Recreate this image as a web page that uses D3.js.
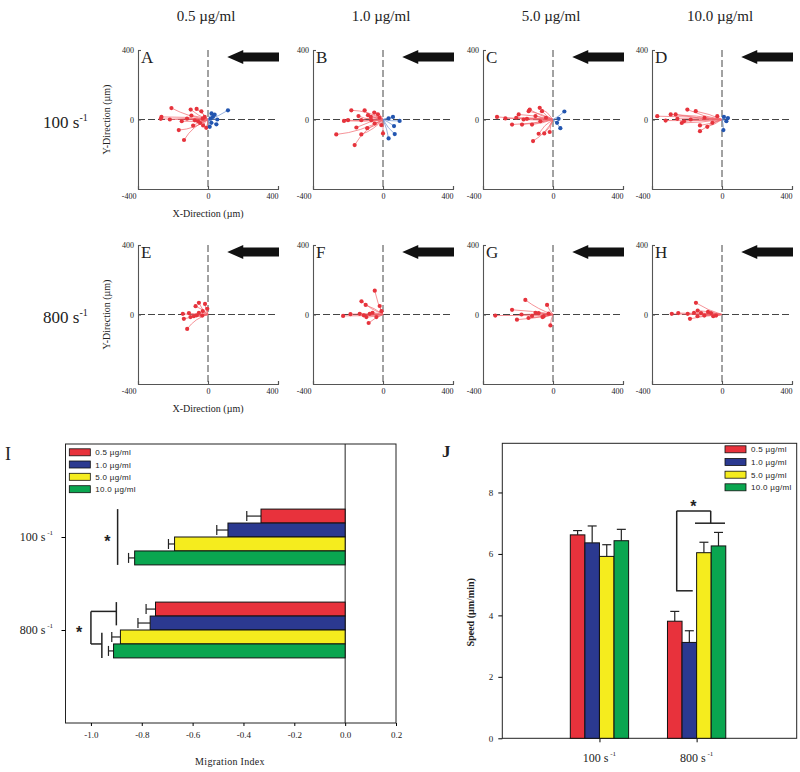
<!DOCTYPE html>
<html lang="en">
<head>
<meta charset="UTF-8">
<title>chart</title>
<style>
  body { margin: 0; background: #fff; }
  svg text { font-family: "Liberation Serif", "Times New Roman", serif; fill: #222; }
  svg text.sans { font-family: "Liberation Sans", Arial, sans-serif; }
</style>
</head>
<body>
<script src="https://d3js.org/d3.v7.min.js"></script>
<script>
// ---- data ----
const concentrations = ['0.5 µg/ml', '1.0 µg/ml', '5.0 µg/ml', '10.0 µg/ml'];
const shearRates = ['100', '800'];
const seriesColors = ['#e8323c', '#2b3990', '#f5ec1e', '#0aa650'];
const trackDomain = [-400, 400];

// track end points: [x µm, y µm, bend µm]
const redA = [[-209,66,20],[-266,15,-10],[-270,4,5],[-218,0,-15],[-167,-61,25],[-137,-118,-30],[-99,57,10],[-65,61,-8],[-38,47,6],[-95,23,-5],[-57,-10,8],[-28,-34,-6],[-10,-48,4],[-19,15,3],[-120,5,10],[-45,-20,5],[-75,-5,-8],[-30,5,0],[-150,-10,12],[-85,-35,-10]];
const blueA = [[114,53,-10],[38,28,4],[48,-28,-4],[19,-19,3],[10,-42,0],[28,15,0],[53,0,3],[20,35,0],[15,5,0]];
const redB = [[-181,53,-25],[-223,-8,10],[-267,-86,30],[-162,-147,-35],[-124,-86,20],[-152,-46,-15],[-105,53,25],[-86,25,-12],[-29,30,8],[0,-80,0],[-48,-23,6],[-200,-4,12],[-124,-4,-20],[-67,-4,10],[-10,-32,-5],[-90,-50,15],[-50,40,-20],[-140,20,18],[-20,10,4],[-70,15,-6]];
const blueB = [[57,15,4],[95,-8,-6],[63,-38,5],[67,-84,-10],[32,-109,8],[32,6,2]];
const redC = [[-320,15,10],[-272,6,-8],[-234,-29,12],[-196,29,-10],[-177,-29,8],[-139,48,-12],[-133,57,10],[-76,67,-15],[-63,48,10],[-114,-124,25],[-82,-82,-15],[-50,-80,12],[-19,-72,-6],[-120,-29,8],[-72,-10,-6],[-168,0,6],[-149,4,-5],[-100,20,8],[-40,10,4],[-210,10,-6]];
const blueC = [[65,46,-5],[32,4,3],[42,-50,5],[23,-19,-3]];
const redD = [[-370,19,-10],[-322,-6,8],[-293,29,-10],[-265,29,12],[-217,-10,-8],[-198,57,15],[-150,48,-10],[-126,-34,10],[-126,-67,-12],[-84,-42,8],[-55,-19,-5],[-179,0,6],[-255,4,-6],[-27,19,4],[-100,10,6],[-230,-20,8]];
const blueD = [[11,15,2],[34,8,-3],[8,-61,6],[25,-10,-3]];
const redE = [[-144,4,6],[-138,-25,-6],[-109,8,5],[-119,-83,-25],[-52,67,12],[-71,48,-10],[-81,-10,5],[-33,-6,-3],[-17,61,8],[-4,33,3],[-52,10,-4],[-100,-15,6],[-30,20,4],[-65,-5,-3]];
const redF = [[-228,-8,6],[-186,2,-5],[-123,76,12],[-99,55,-10],[-47,137,10],[-19,49,5],[-82,-49,-8],[-133,4,5],[-76,4,-4],[-38,-15,3],[-9,19,2],[-95,-15,6],[-60,10,-3],[-110,-5,4]];
const redG = [[-330,-6,5],[-234,27,-8],[-158,84,15],[-206,-30,8],[-82,8,-4],[-34,55,6],[-15,-63,-6],[-54,-11,3],[-120,-8,5],[-100,10,-4],[-60,-15,4],[-180,0,-5],[-140,-20,6],[-25,5,2]];
const redH = [[-287,4,5],[-250,8,-5],[-149,67,12],[-183,-25,-8],[-196,4,4],[-139,23,-6],[-101,-6,4],[-63,8,-3],[-34,-6,2],[-120,8,5],[-160,10,-4],[-80,15,3],[-140,-10,4],[-50,-10,-2]];

// migration index (panel I) and speed (panel J)
const migrationIndex100 = [-0.331, -0.461, -0.671, -0.828];
const migrationErr100 = [0.056, 0.044, 0.024, 0.024];
const migrationIndex800 = [-0.746, -0.767, -0.884, -0.911];
const migrationErr800 = [0.037, 0.048, 0.034, 0.020];
const migrationTicks = [-1.0, -0.8, -0.6, -0.4, -0.2, 0.0, 0.2];
const speed100 = [6.62, 6.36, 5.92, 6.43];
const speedErr100 = [0.14, 0.55, 0.38, 0.37];
const speed800 = [3.81, 3.12, 6.04, 6.26];
const speedErr800 = [0.32, 0.38, 0.34, 0.44];
const speedTicks = [0, 2, 4, 6, 8];

// ---- canvas ----
const width = 800, height = 772;
const svg = d3.select('body').append('svg')
  .attr('width', width).attr('height', height);

const panels = [
  {letter: 'A', red: redA, blue: blueA, col: 0, row: 0},
  {letter: 'B', red: redB, blue: blueB, col: 1, row: 0},
  {letter: 'C', red: redC, blue: blueC, col: 2, row: 0},
  {letter: 'D', red: redD, blue: blueD, col: 3, row: 0},
  {letter: 'E', red: redE, blue: [], col: 0, row: 1},
  {letter: 'F', red: redF, blue: [], col: 1, row: 1},
  {letter: 'G', red: redG, blue: [], col: 2, row: 1},
  {letter: 'H', red: redH, blue: [], col: 3, row: 1}
];
const panelLeft = [138, 313, 483, 652];
const panelTop = [50, 245];
const pw = 140, ph = 139;

// column headers and row labels
concentrations.forEach((c, i) => {
  svg.append('text').attr('x', panelLeft[i] + pw / 2 - 2).attr('y', 21)
    .attr('text-anchor', 'middle').attr('font-size', 15).text(c);
});
shearRates.forEach((s, i) => {
  const t = svg.append('text').attr('x', 43).attr('y', panelTop[i] + ph / 2 + 8)
    .attr('font-size', 17);
  t.append('tspan').text(s + ' s');
  t.append('tspan').attr('font-size', 10).attr('dy', -7).text('-1');
});

function trackPath(x, y, d) {
  const p = d3.path();
  p.moveTo(x(0), y(0));
  const len = Math.hypot(d[0], d[1]) || 1;
  const cx = d[0] / 2 - d[1] / len * d[2];
  const cy = d[1] / 2 + d[0] / len * d[2];
  p.quadraticCurveTo(x(cx), y(cy), x(d[0]), y(d[1]));
  return p.toString();
}

panels.forEach(p => {
  const left = panelLeft[p.col], top = panelTop[p.row];
  const x = d3.scaleLinear().domain(trackDomain).range([left, left + pw]);
  const y = d3.scaleLinear().domain(trackDomain).range([top + ph, top]);
  const g = svg.append('g');

  // dashed cross
  g.append('line').attr('x1', x(-400)).attr('x2', x(400)).attr('y1', y(0)).attr('y2', y(0))
    .attr('stroke', '#444').attr('stroke-width', 1).attr('stroke-dasharray', '7,3');
  g.append('line').attr('x1', x(0)).attr('x2', x(0)).attr('y1', y(400)).attr('y2', y(-400))
    .attr('stroke', '#444').attr('stroke-width', 1).attr('stroke-dasharray', '7,3');

  // axes
  const ax = g.append('g').attr('transform', `translate(0,${y(-400)})`)
    .call(d3.axisBottom(x).tickValues([-400, 0, 400]).tickSize(-3).tickPadding(4).tickFormat(d => String(d)));
  ax.selectAll('.tick text').attr('text-anchor', d => d === 0 ? 'middle' : 'end')
    .attr('dx', d => d === -400 ? -2 : 0);
  const ay = g.append('g').attr('transform', `translate(${x(-400)},0)`)
    .call(d3.axisLeft(y).tickValues([0, 400]).tickSize(-3).tickPadding(4));
  [ax, ay].forEach(a => {
    a.selectAll('path, line').attr('stroke', '#555').attr('stroke-width', 1.1);
    a.selectAll('text').attr('font-size', 8).attr('font-family', '"Liberation Serif", serif').attr('fill', '#222');
  });

  // tracks
  const groups = [{data: p.red, line: '#f0666d', dot: '#e6333c'}, {data: p.blue, line: '#6a8fd0', dot: '#2255b0'}];
  groups.forEach(s => {
    g.selectAll(null).data(s.data).enter().append('path')
      .attr('d', d => trackPath(x, y, d)).attr('fill', 'none')
      .attr('stroke', s.line).attr('stroke-width', 0.7);
  });
  groups.forEach(s => {
    g.selectAll(null).data(s.data).enter().append('circle')
      .attr('cx', d => x(d[0])).attr('cy', d => y(d[1])).attr('r', 2.1)
      .attr('fill', s.dot);
  });

  // flow arrow
  const tip = x(110), right = x(400) + 1, cy = top + 7;
  g.append('polygon').attr('fill', '#111').attr('points', [
    [tip, cy], [tip + 16, cy - 7], [tip + 16, cy - 4.5], [right, cy - 4.5],
    [right, cy + 4.5], [tip + 16, cy + 4.5], [tip + 16, cy + 7]].map(q => q.join(',')).join(' '));

  // panel letter
  g.append('text').attr('x', left + 3).attr('y', top + 13).attr('font-size', 17).text(p.letter);

  if (p.col === 0) {
    g.append('text').attr('transform', `translate(${left - 28},${top + ph / 2}) rotate(-90)`)
      .attr('text-anchor', 'middle').attr('font-size', 10).text('Y-Direction (µm)');
    g.append('text').attr('x', left + pw / 2).attr('y', top + ph + 28)
      .attr('text-anchor', 'middle').attr('font-size', 10).text('X-Direction (µm)');
  }
});

// ---- legend helper ----
function legend(x0, ys) {
  concentrations.forEach((c, i) => {
    svg.append('rect').attr('x', x0).attr('y', ys[i] - 3.5).attr('width', 21).attr('height', 7)
      .attr('fill', seriesColors[i]).attr('stroke', '#111').attr('stroke-width', 0.8);
    svg.append('text').attr('class', 'sans').attr('x', x0 + 26).attr('y', ys[i] + 3)
      .attr('font-size', 8).attr('letter-spacing', 0.3).text(c);
  });
}
const fmt = d => d3.format('.1f')(d).replace('−', '-');

// ---- panel I ----
const xI = d3.scaleLinear().domain([-1.1, 0.2]).range([65.5, 396]);
const yI = d3.scaleLinear().domain([0, 3]).range([444, 723]);
const gI = svg.append('g');
gI.append('rect').attr('x', xI(-1.1)).attr('y', yI(0)).attr('width', xI(0.2) - xI(-1.1))
  .attr('height', yI(3) - yI(0)).attr('fill', 'none').attr('stroke', '#222').attr('stroke-width', 1);
gI.append('line').attr('x1', xI(0)).attr('x2', xI(0)).attr('y1', yI(0)).attr('y2', yI(3))
  .attr('stroke', '#222').attr('stroke-width', 1);
const axI = gI.append('g').attr('transform', `translate(0,${yI(3)})`)
  .call(d3.axisBottom(xI).tickValues(migrationTicks).tickSize(3).tickSizeOuter(0).tickPadding(6).tickFormat(fmt));
axI.select('.domain').remove();
axI.selectAll('text').attr('font-size', 9).attr('font-family', '"Liberation Serif", serif').attr('fill', '#222');
const ayI = gI.append('g').attr('transform', `translate(${xI(-1.1)},0)`)
  .call(d3.axisLeft(yI).tickValues([1, 2]).tickSize(4).tickSizeOuter(0).tickFormat(''));
ayI.select('.domain').remove();
shearRates.forEach((s, i) => {
  const t = gI.append('text').attr('x', 53).attr('y', yI(i + 1) + 4).attr('text-anchor', 'end').attr('font-size', 12);
  t.append('tspan').text(s + ' s');
  t.append('tspan').attr('font-size', 7).attr('dy', -6).text(' -1');
});
const barH = yI(0.15) - yI(0);
[[migrationIndex100, migrationErr100], [migrationIndex800, migrationErr800]].forEach((grp, gi) => {
  grp[0].forEach((v, si) => {
    const yy = yI(gi + 1 - 0.3 + si * 0.15);
    const xe = xI(v - grp[1][si]);
    gI.append('line').attr('x1', xI(v)).attr('x2', xe).attr('y1', yy + barH / 2).attr('y2', yy + barH / 2)
      .attr('stroke', '#222').attr('stroke-width', 1.2);
    gI.append('line').attr('x1', xe).attr('x2', xe).attr('y1', yy + barH / 2 - 5).attr('y2', yy + barH / 2 + 5)
      .attr('stroke', '#222').attr('stroke-width', 1.2);
    gI.append('rect').attr('x', xI(v)).attr('y', yy).attr('width', xI(0) - xI(v)).attr('height', barH)
      .attr('fill', seriesColors[si]).attr('stroke', '#111').attr('stroke-width', 1);
  });
});
// significance marks
const segI = [
  [[-0.895, 0.7], [-0.895, 1.3]],
  [[-0.9, 1.7], [-0.9, 1.95]], [[-1.0, 1.8], [-0.9, 1.8]], [[-1.0, 1.8], [-1.0, 2.15]],
  [[-1.0, 2.15], [-0.957, 2.15]], [[-0.957, 2.03], [-0.957, 2.3]]
];
segI.forEach(s => gI.append('line').attr('x1', xI(s[0][0])).attr('y1', yI(s[0][1]))
  .attr('x2', xI(s[1][0])).attr('y2', yI(s[1][1])).attr('stroke', '#222').attr('stroke-width', 1.5));
[[-0.935, 1.0], [-1.046, 1.98]].forEach(a => gI.append('text').attr('class', 'sans')
  .attr('x', xI(a[0])).attr('y', yI(a[1]) + 10).attr('text-anchor', 'middle')
  .attr('font-size', 16).attr('font-weight', 'bold').text('*'));
legend(xI(-1.085), [452.3, 464.5, 476.8, 489.2]);
gI.append('text').attr('x', 230).attr('y', 765).attr('text-anchor', 'middle').attr('font-size', 10)
  .attr('letter-spacing', 0.3).text('Migration Index');
gI.append('text').attr('x', 5).attr('y', 460).attr('font-size', 18).text('I');

// ---- panel J ----
const xJ = d3.scaleLinear().domain([0, 3.03]).range([502.3, 796.7]);
const yJ = d3.scaleLinear().domain([0, 9.6]).range([738.3, 443.3]);
const gJ = svg.append('g');
gJ.append('rect').attr('x', xJ(0)).attr('y', yJ(9.6)).attr('width', xJ(3.03) - xJ(0))
  .attr('height', yJ(0) - yJ(9.6)).attr('fill', 'none').attr('stroke', '#222').attr('stroke-width', 1);
const ayJ = gJ.append('g').attr('transform', `translate(${xJ(0)},0)`)
  .call(d3.axisLeft(yJ).tickValues(speedTicks).tickSize(4).tickSizeOuter(0).tickPadding(5));
ayJ.select('.domain').remove();
ayJ.selectAll('text').attr('font-size', 9).attr('font-family', '"Liberation Serif", serif').attr('fill', '#222');
const axJ = gJ.append('g').attr('transform', `translate(0,${yJ(0)})`)
  .call(d3.axisBottom(xJ).tickValues([1, 2]).tickSize(4).tickSizeOuter(0).tickFormat(''));
axJ.select('.domain').remove();
shearRates.forEach((s, i) => {
  const t = gJ.append('text').attr('x', xJ(i + 1)).attr('y', 762).attr('text-anchor', 'middle').attr('font-size', 12);
  t.append('tspan').text(s + ' s');
  t.append('tspan').attr('font-size', 7).attr('dy', -6).text(' -1');
});
const barW = xJ(0.15) - xJ(0);
[[speed100, speedErr100], [speed800, speedErr800]].forEach((grp, gi) => {
  grp[0].forEach((v, si) => {
    const xx = xJ(gi + 1 - 0.3 + si * 0.15);
    const ye = yJ(v + grp[1][si]);
    gJ.append('line').attr('x1', xx + barW / 2).attr('x2', xx + barW / 2).attr('y1', yJ(v)).attr('y2', ye)
      .attr('stroke', '#222').attr('stroke-width', 1.2);
    gJ.append('line').attr('x1', xx + barW / 2 - 4.5).attr('x2', xx + barW / 2 + 4.5).attr('y1', ye).attr('y2', ye)
      .attr('stroke', '#222').attr('stroke-width', 1.2);
    gJ.append('rect').attr('x', xx).attr('y', yJ(v)).attr('width', barW).attr('height', yJ(0) - yJ(v))
      .attr('fill', seriesColors[si]).attr('stroke', '#111').attr('stroke-width', 1);
  });
});
const segJ = [
  [[1.788, 4.8], [1.96, 4.8]], [[1.795, 4.8], [1.795, 7.4]], [[1.795, 7.4], [2.145, 7.4]],
  [[2.145, 7.4], [2.145, 7.0]], [[1.983, 7.0], [2.292, 7.0]]
];
segJ.forEach(s => gJ.append('line').attr('x1', xJ(s[0][0])).attr('y1', yJ(s[0][1]))
  .attr('x2', xJ(s[1][0])).attr('y2', yJ(s[1][1])).attr('stroke', '#222').attr('stroke-width', 1.5));
gJ.append('text').attr('class', 'sans').attr('x', xJ(1.966)).attr('y', yJ(7.69) + 10)
  .attr('text-anchor', 'middle').attr('font-size', 16).attr('font-weight', 'bold').text('*');
legend(725, [449.3, 462, 474.7, 487.3]);
gJ.append('text').attr('transform', `translate(474,${yJ(4.1)}) rotate(-90)`)
  .attr('text-anchor', 'middle').attr('font-size', 10).attr('font-weight', 'bold').text('Speed (µm/min)');
gJ.append('text').attr('x', 442).attr('y', 457).attr('font-size', 17).attr('font-weight', 'bold').text('J');
</script>
</body>
</html>
